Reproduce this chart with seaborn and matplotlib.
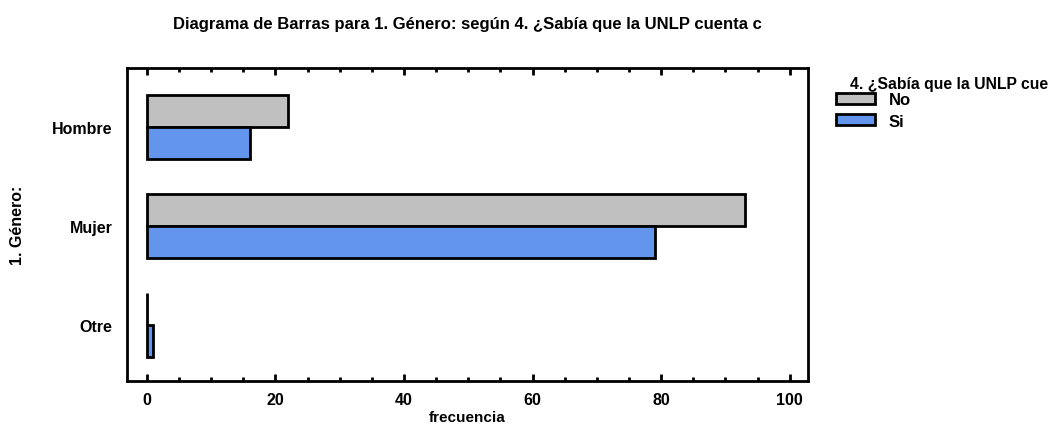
# bar chart: 1. Género vs 4. ¿Sabía que la UNLP cuenta ...
import seaborn as sns
import pandas as pd
import matplotlib.pyplot as plt
from matplotlib.ticker import MultipleLocator

# data
generos = ['Hombre', 'Mujer', 'Otre']
respuestas = ['No', 'Si']
frec_no = [22, 93, 0]
frec_si = [16, 79, 1]
colores = ['#C0C0C0', '#6495ED']

df = pd.DataFrame({
    'genero': generos * 2,
    'respuesta': ['No'] * 3 + ['Si'] * 3,
    'frecuencia': frec_no + frec_si,
})

sns.set_style('white')
plt.rcParams['font.family'] = ['Liberation Sans', 'DejaVu Sans']
plt.rcParams['text.color'] = 'black'
plt.rcParams['axes.labelcolor'] = 'black'

fig = plt.figure(figsize=(10.49, 4.27), dpi=100)
ax = fig.add_axes([0.121, 0.1054, 0.649, 0.7326])

sns.barplot(data=df, y='genero', x='frecuencia', hue='respuesta',
            order=generos, hue_order=respuestas, palette=colores,
            orient='h', width=0.65, edgecolor='black', linewidth=2,
            saturation=1, ax=ax)

ax.set_xlim(-3.1, 102.8)
ax.set_ylim(2.57, -0.6)
ax.xaxis.set_major_locator(MultipleLocator(20))
ax.xaxis.set_minor_locator(MultipleLocator(5))
ax.tick_params(axis='x', which='both', direction='in', top=True, bottom=True,
               width=2, color='black', labelsize=11.5, pad=8, labelcolor='black')
ax.tick_params(axis='x', which='major', length=5)
ax.tick_params(axis='x', which='minor', length=3)
ax.tick_params(axis='y', left=False, labelsize=11.5, pad=7, labelcolor='black')
for lab in ax.get_xticklabels() + ax.get_yticklabels():
    lab.set_fontweight('bold')
for s in ax.spines.values():
    s.set_linewidth(2)
    s.set_color('black')

ax.set_xlabel('frecuencia', fontsize=11, fontweight='bold', labelpad=2)
ax.set_ylabel('1. Género:', fontsize=11.5, fontweight='bold')
ax.yaxis.set_label_coords(-0.149, 0.5)
ax.set_title('Diagrama de Barras para 1. Género: según 4. ¿Sabía que la UNLP cuenta c',
             fontsize=12, fontweight='bold', pad=29)

handles, labels = ax.get_legend_handles_labels()
ax.get_legend().remove()
fig.text(850 / 1049, 1 - 84 / 427, '4. ¿Sabía que la UNLP cue', fontsize=11.3,
         fontweight='bold', va='center', ha='left')
leg = fig.legend(handles, labels, loc='upper left',
                 bbox_to_anchor=(836 / 1049, 1 - 93 / 427), frameon=False,
                 prop={'weight': 'bold', 'size': 12}, handlelength=2.35,
                 handleheight=0.65, labelspacing=0.4, borderpad=0,
                 borderaxespad=0, handletextpad=0.8)

fig.savefig('out.png', dpi=100)
plt.close()
